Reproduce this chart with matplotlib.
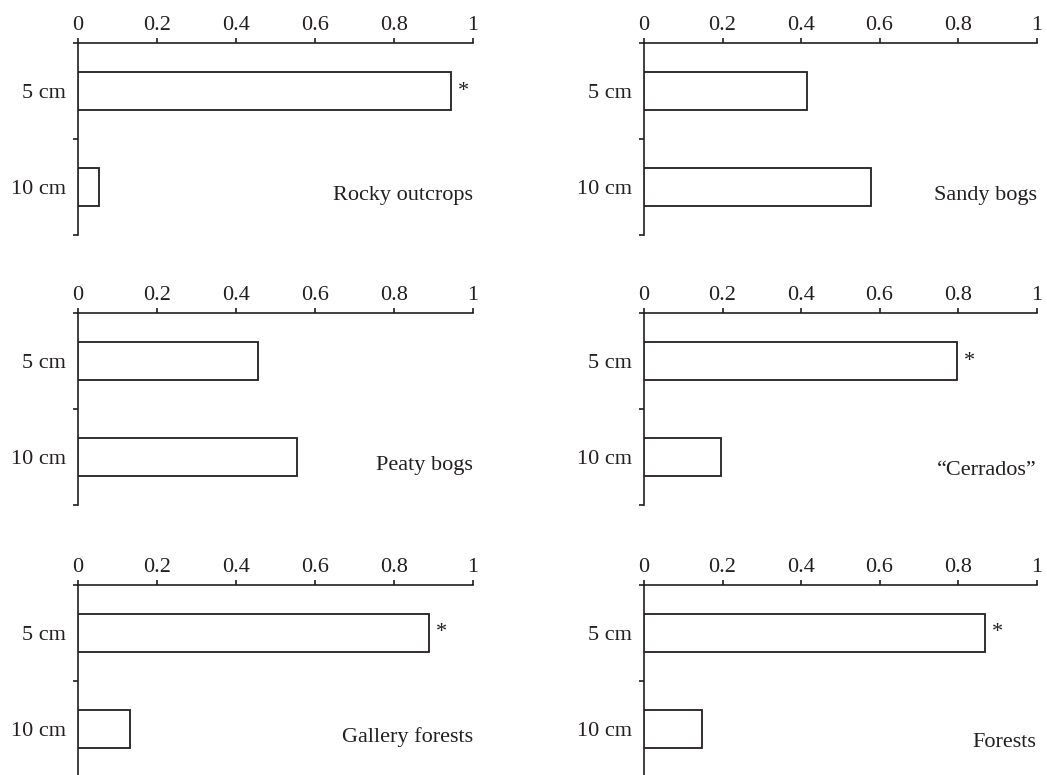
import numpy as np
import matplotlib
matplotlib.use("Agg")
import matplotlib.pyplot as plt

# proportions of seeds per burial depth
habitats = ["Rocky outcrops", "Sandy bogs", "Peaty bogs",
            "\u201cCerrados\u201d", "Gallery forests", "Forests"]
depths = ["5 cm", "10 cm"]
prop_5cm = [0.945, 0.416, 0.457, 0.797, 0.889, 0.869]
prop_10cm = [0.055, 0.578, 0.555, 0.197, 0.132, 0.149]
signif = [True, False, False, True, True, True]
x_ticks = [0, 0.2, 0.4, 0.6, 0.8, 1.0]
x_ticklabels = ["0", "0.2", "0.4", "0.6", "0.8", "1"]

INK = "#231f20"
FS = 16
plt.rcParams["font.family"] = ["Liberation Serif", "DejaVu Serif"]
plt.rcParams["font.size"] = FS

W, H = 1047, 775
fig = plt.figure(figsize=(W / 100, H / 100), dpi=100)

# panel geometry in pixels (left, top, width); height is shared
col_left = [77.7, 644.0]
col_width = [395.0, 392.5]
row_top = [43.3, 313.3, 585.0]
panel_h = 191.7
label_y = [1.64, 1.64, 1.64, 1.69, 1.64, 1.69]

for i, name in enumerate(habitats):
    r, c = divmod(i, 2)
    left = col_left[c] / W
    bottom = 1 - (row_top[r] + panel_h) / H
    ax = fig.add_axes([left, bottom, col_width[c] / W, panel_h / H])

    vals = [prop_5cm[i], prop_10cm[i]]
    ypos = np.array([0.5, 1.5])
    ax.barh(ypos, vals, height=0.4, left=0, color="white",
            edgecolor=INK, linewidth=1.3, zorder=3)

    if signif[i]:
        ax.text(vals[0] + 0.018, ypos[0], "*", ha="left", va="center",
                fontsize=FS, color=INK)

    ax.text(1.0, label_y[i], name, ha="right", va="baseline",
            fontsize=FS, color=INK)

    ax.set_xlim(0, 1)
    ax.set_ylim(2, 0)
    ax.xaxis.tick_top()
    ax.set_xticks(x_ticks)
    ax.set_xticklabels(x_ticklabels)
    ax.set_yticks([0, 1, 2])
    ax.set_yticklabels([])
    ax.set_yticks(ypos, minor=True)
    ax.set_yticklabels(depths, minor=True)

    ax.tick_params(axis="x", direction="out", length=3.5, width=1.2,
                   pad=2.5, colors=INK, labelsize=FS)
    ax.tick_params(axis="y", which="major", direction="out", length=3.8,
                   width=1.2, colors=INK)
    ax.tick_params(axis="y", which="minor", length=0, pad=8.5,
                   colors=INK, labelsize=FS)

    for s in ["bottom", "right"]:
        ax.spines[s].set_visible(False)
    for s in ["top", "left"]:
        ax.spines[s].set_linewidth(1.2)
        ax.spines[s].set_color(INK)
    ax.patch.set_visible(False)

fig.savefig("out.png", dpi=100)
